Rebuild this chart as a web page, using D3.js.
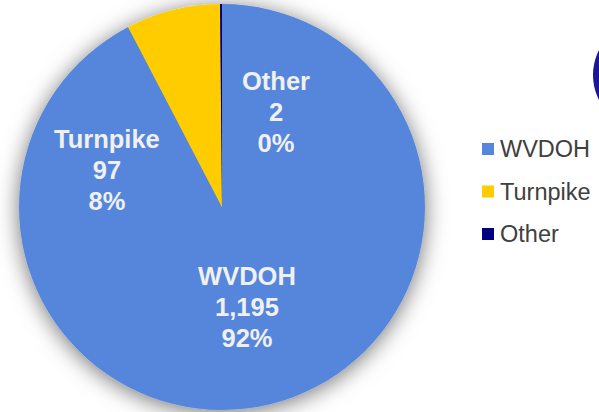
<!DOCTYPE html>
<html lang="en">
<head>
    <meta charset="UTF-8">
    <title>Pie</title>
    <script type="text/javascript" src="https://cdn.jsdelivr.net/npm/d3@7"></script>
    <style>
        body { margin: 0; background: #fff; }
        svg { display: block; }
        .label text {
            font-family: "Liberation Sans", Arial, sans-serif;
            font-weight: bold;
            font-size: 25.5px;
            fill: #f0f0f0;
            text-anchor: middle;
        }
        .legend text {
            font-family: "Liberation Sans", Arial, sans-serif;
            font-size: 23.5px;
            fill: #404040;
        }
    </style>
</head>
<body>
<svg id="chart" width="599" height="412"></svg>
<script>
    // data
    var categories = ["WVDOH", "Turnpike", "Other"];
    var counts = [1195, 97, 2];
    var percents = ["92%", "8%", "0%"];
    var colors = ["#5586db", "#ffcc00", "#000080"];

    var svg = d3.select("svg#chart"),
        width = +svg.attr("width"),
        height = +svg.attr("height");

    var cx = 222, cy = 207, radius = 203;

    var defs = svg.append("defs");
    var shadow = defs.append("filter")
        .attr("id", "shadow")
        .attr("x", "-20%").attr("y", "-20%")
        .attr("width", "140%").attr("height", "140%");
    shadow.append("feDropShadow")
        .attr("dx", 0).attr("dy", 3)
        .attr("stdDeviation", 11)
        .attr("flood-color", "#000")
        .attr("flood-opacity", 0.55);

    // partial logo at the right edge
    svg.append("circle")
        .attr("cx", 648).attr("cy", 75).attr("r", 55)
        .attr("fill", "#1c1698");

    var data = categories.map(function (c, i) {
        return {name: c, value: counts[i], pct: percents[i], color: colors[i]};
    });

    var pie = d3.pie()
        .sort(null)
        .value(function (d) { return d.value; });

    var arc = d3.arc().innerRadius(0).outerRadius(radius);

    var g = svg.append("g")
        .attr("transform", "translate(" + cx + "," + cy + ")");

    g.append("g")
        .attr("filter", "url(#shadow)")
        .selectAll("path")
        .data(pie(data))
        .enter()
        .append("path")
        .attr("d", arc)
        .attr("fill", function (d) { return d.data.color; });

    // label anchors (fraction of radius, middle line baseline) as placed in the original
    var labelOffsets = {
        "WVDOH": [0.123, 0.537],
        "Turnpike": [-0.567, -0.138],
        "Other": [0.266, -0.424]
    };
    var fmt = d3.format(",");
    var lineH = 31;

    var labels = g.append("g").attr("class", "label")
        .selectAll("text")
        .data(pie(data))
        .enter()
        .append("text")
        .attr("transform", function (d) {
            var o = labelOffsets[d.data.name];
            return "translate(" + (o[0] * radius) + "," + (o[1] * radius) + ")";
        });

    labels.each(function (d) {
        var t = d3.select(this);
        [d.data.name, fmt(d.data.value), d.data.pct].forEach(function (s, i) {
            t.append("tspan").attr("x", 0).attr("y", (i - 1) * lineH).text(s);
        });
    });

    // legend
    var legendY = d3.scalePoint()
        .domain(categories)
        .range([149, 234]);

    var legend = svg.append("g").attr("class", "legend")
        .selectAll("g")
        .data(data)
        .enter()
        .append("g")
        .attr("transform", function (d) {
            return "translate(482," + legendY(d.name) + ")";
        });

    legend.append("rect")
        .attr("x", 0).attr("y", -6)
        .attr("width", 12).attr("height", 12)
        .attr("fill", function (d) { return d.color; });

    legend.append("text")
        .attr("x", 18).attr("y", 8)
        .text(function (d) { return d.name; });
</script>
</body>
</html>
